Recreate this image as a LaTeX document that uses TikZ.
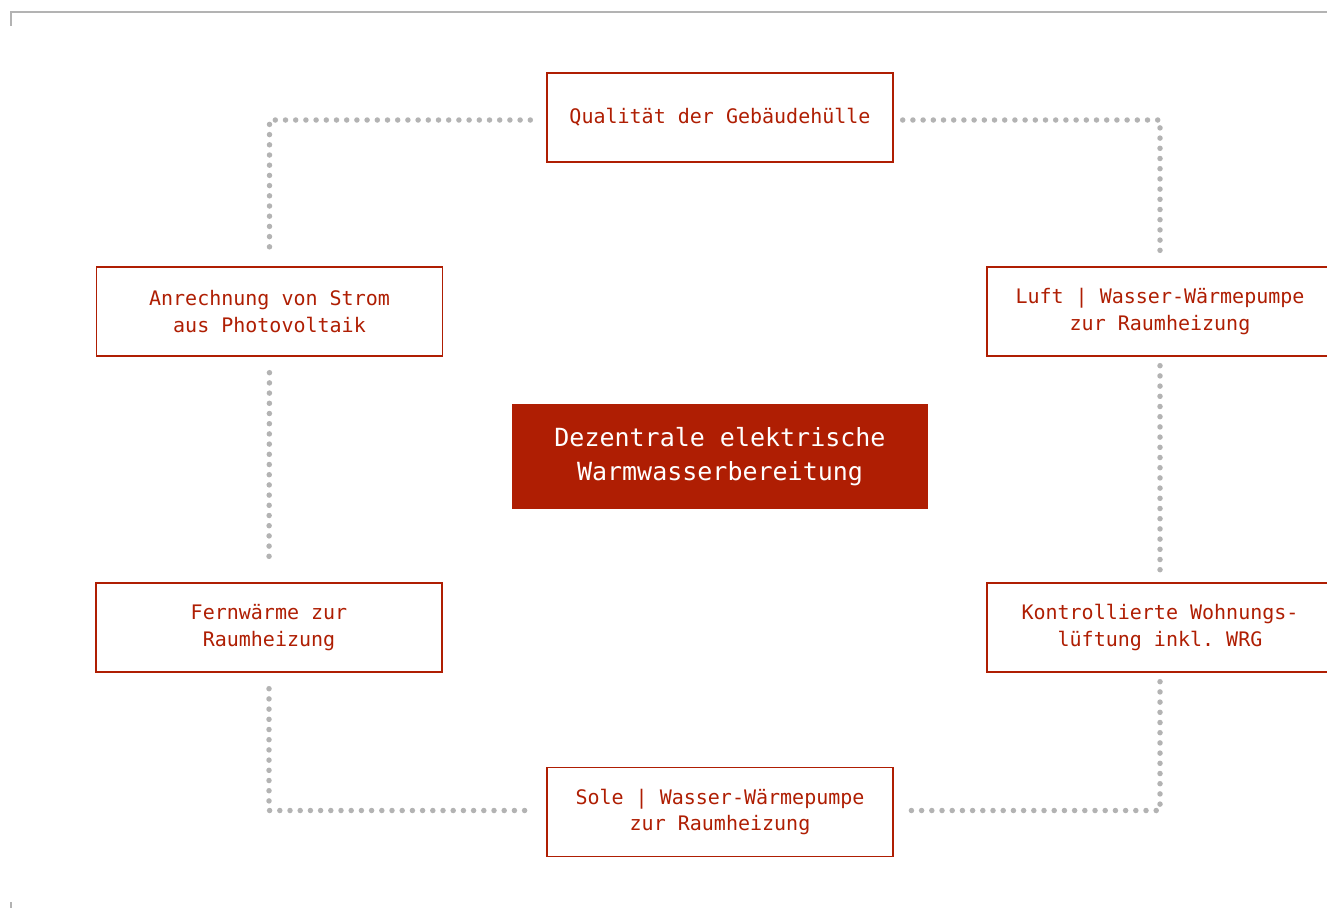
\documentclass[tikz,border=0pt]{standalone}
\usepackage{fontspec}
\setmonofont{DejaVu Sans Mono}
\usetikzlibrary{positioning}

\definecolor{brickred}{HTML}{AF1E03}
\definecolor{dotgray}{HTML}{B3B3B3}

\begin{document}
\begin{tikzpicture}[x=1pt, y=-1pt,
    topic/.style={rectangle, draw=brickred, line width=1.4pt, fill=white, text=brickred, minimum width=346pt, minimum height=89pt, inner sep=0pt, align=center, font=\ttfamily\fontsize{20}{26.5}\selectfont},
    hub/.style={rectangle, fill=brickred, text=white, minimum width=416pt, minimum height=105pt, inner sep=0pt, align=center, font=\ttfamily\fontsize{25}{34.5}\selectfont},
    link/.style={dotgray, line width=5.5pt, line cap=round, dash pattern=on 0pt off 10.2pt, shorten <=16pt, shorten >=16pt},
    near_link/.style={link, shorten <=9pt, shorten >=9pt},
    frame/.style={dotgray, line width=1.5pt}
]

\clip (0,0) rectangle (1327,908);

% --- page frame ---
\draw[frame] (11,26) -- (11,12) -- (1327,12);
\draw[frame] (11,902) -- (11,908);

% --- centre ---
\node[hub] (hub) at (720,456.5) {Dezentrale elektrische\\Warmwasserbereitung};

% --- surrounding measures ---
\node[topic] (quality) at (720,117.5) {\raisebox{-2pt}{Qualität der Gebäudehülle}};
\node[topic] (pv) at (269.5,311.5) {Anrechnung von Strom\\aus Photovoltaik};
\node[topic] (district) at (269,627.5) {Fernwärme zur\\Raumheizung};
\node[topic] (brine) at (720,812) {Sole | Wasser-Wärmepumpe\\zur Raumheizung};
\node[topic] (airpump) at (1160,311.5) {Luft | Wasser-Wärmepumpe\\zur Raumheizung};
\node[topic] (ventilation) at (1160,627.5) {Kontrollierte Wohnungs-\\lüftung inkl. WRG};

% --- dotted ring ---
\draw[link] ([yshift=-2.5pt]quality.west) -| (pv.north);
\draw[link] (pv.south) -- (district.north);
\draw[link] (district.south) |- ([yshift=1.5pt]brine.west);
\draw[near_link] ([yshift=-2.5pt]quality.east) -| (airpump.north);
\draw[near_link] (airpump.south) -- (ventilation.north);
\draw[near_link] (ventilation.south) |- ([yshift=1.5pt]brine.east);

\end{tikzpicture}
\end{document}
